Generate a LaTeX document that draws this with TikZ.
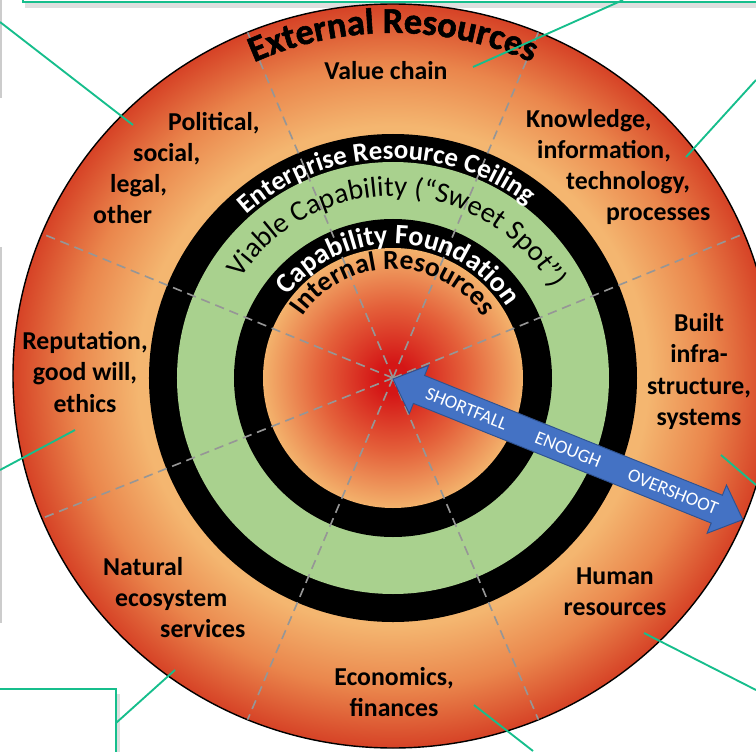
\documentclass[tikz,border=0pt]{standalone}
\usepackage{fontspec}
\setmainfont{Carlito}
\newfontfamily\heavyfont{Carlito}[BoldFeatures={FakeBold=1.6}]
\usepackage{tikz}
\usetikzlibrary{decorations.text, calc}
\usepackage{xcolor}

\definecolor{rimred}{RGB}{214,66,38}
\definecolor{ringmid}{RGB}{234,134,76}
\definecolor{ringlight}{RGB}{244,182,112}
\definecolor{diskred}{RGB}{212,22,22}
\definecolor{diskmid}{RGB}{228,96,58}
\definecolor{disklight}{RGB}{243,178,108}
\definecolor{sweetgreen}{RGB}{169,209,142}
\definecolor{gaugeblue}{RGB}{68,114,196}
\definecolor{gaugeedge}{RGB}{47,82,143}
\definecolor{calloutgreen}{RGB}{22,190,140}
\definecolor{spokegray}{RGB}{150,150,150}

\pgfdeclareradialshading{outershade}{\pgfpointorigin}{color(0bp)=(ringlight); color(16.8bp)=(ringlight); color(21bp)=(ringmid); color(25bp)=(rimred); color(50bp)=(rimred)}
\pgfdeclareradialshading{innershade}{\pgfpointorigin}{color(0bp)=(diskred); color(3bp)=(diskred); color(14bp)=(diskmid); color(25bp)=(disklight); color(50bp)=(disklight)}

\begin{document}
\begin{tikzpicture}[
  x=0.03cm, y=0.03cm,
  lbl/.style={font=\fontsize{22}{26.5}\selectfont\bfseries, text=black, inner sep=0pt},
  gauge/.style={font=\fontsize{16}{19}\selectfont, text=white, inner sep=0pt},
  feed/.style={draw=calloutgreen, line width=1.6pt},
  spoke/.style={draw=spokegray, line width=1.4pt, dash pattern=on 8pt off 5pt},
  ringtext/.style={decorate, decoration={text along path, text align=center}},
  cropbox/.style={fill=white, draw=calloutgreen, line width=1.6pt}
]
  \useasboundingbox (-393,-375) rectangle (363,376);
  \clip (-393,-375) rectangle (363,376);

  % Cropped callout boxes
  \fill[gray!25] (-368,368) rectangle (370,373);
  \filldraw[cropbox] (-370,374) rectangle (400,420);
  \fill[gray!40] (-400,376) rectangle (-390.5,278);
  \fill[gray!40] (-400,129) rectangle (-390.5,-247);
  \fill[gray!25] (-400,-318) rectangle (-273,-380);
  \filldraw[cropbox] (-400,-313) rectangle (-277,-380);

  % External resources disc
  \coordinate (mid) at (0,0);
  \coordinate (core) at (0,-2);
  \shade[shading=outershade] (mid) ellipse [x radius=380, y radius=372];
  \draw[line width=1.2pt] (mid) ellipse [x radius=380, y radius=372];

  % Ceiling, sweet spot, foundation, internal
  \fill[black] (core) circle (244);
  \fill[sweetgreen] (core) circle (216);
  \fill[black] (core) circle (159);
  \shade[shading=innershade] (core) circle (130);

  % Spokes
  \foreach \a in {22.5,67.5,...,337.5}
    \draw[spoke] (core) -- (\a:380 and 372);

  % Ring captions
  \path[ringtext, decoration={text={|\fontsize{31}{36}\selectfont\heavyfont\bfseries|External Resources}}]
    (165:343) arc[start angle=165, end angle=15, radius=343];
  \begin{scope}[shift={(core)}]
    \path[ringtext, decoration={text color=white, text={|\fontsize{23}{28}\selectfont\bfseries|Enterprise Resource Ceiling}}]
      (172:219) arc[start angle=172, end angle=12, radius=219];
    \path[ringtext, decoration={text={|\fontsize{24.5}{29}\selectfont|Viable Capability (“Sweet Spot”)}}]
      (168:182) arc[start angle=168, end angle=8, radius=182];
    \path[ringtext, decoration={text color=white, text={|\fontsize{24}{29}\selectfont\bfseries|Capability Foundation}}]
      (167:134) arc[start angle=167, end angle=7, radius=134];
    \path[ringtext, decoration={text={|\fontsize{23.5}{28}\selectfont\bfseries|Internal Resources}}]
      (170:109) arc[start angle=170, end angle=10, radius=109];
  \end{scope}

  % Gauge arrow
  \coordinate (hub) at (0,-3);
  \coordinate (rim) at (350,-144);
  \begin{scope}[shift={(hub)}, rotate=-21.9]
    \filldraw[fill=gaugeblue, draw=gaugeedge, line width=0.8pt]
      (0,0) -- (28,26) -- (28,15) -- (349,15) -- (349,26) -- (377,0)
      -- (349,-26) -- (349,-15) -- (28,-15) -- (28,-26) -- cycle;
  \end{scope}
  \path (hub) -- (rim)
    node[gauge, pos=0.21, sloped] (short) {SHORTFALL}
    node[gauge, pos=0.5, sloped] (enough) {ENOUGH}
    node[gauge, pos=0.8, sloped] (over) {OVERSHOOT};

  % Resource labels
  \node[lbl] (value) at (-7,305) {Value chain};
  \node[lbl, align=left, anchor=west] (polit) at (-300,208)
    {\hspace*{2.25cm}Political,\\\hspace*{1.2cm}social,\\\hspace*{0.51cm}legal,\\other};
  \node[lbl, align=left, anchor=west] (know) at (133,209)
    {Knowledge,\\\hspace*{0.33cm}information,\\\hspace*{1.2cm}technology,\\\hspace*{2.4cm}processes};
  \node[lbl, align=center] (reput) at (-308,4) {Reputation,\\good will,\\ethics};
  \node[lbl, align=center] (built) at (306,4.5) {Built\\infra-\\structure,\\systems};
  \node[lbl, align=left, anchor=west] (natur) at (-290,-221.5)
    {Natural\\\hspace*{0.36cm}ecosystem\\\hspace*{1.71cm}services};
  \node[lbl, align=center] (econ) at (1,-316) {Economics,\\finances};
  \node[lbl, align=center] (human) at (222,-216) {Human\\resources};

  % Callout leaders
  \coordinate (lead1) at (-393,354);  \coordinate (foot1) at (-260,251);
  \coordinate (lead2) at (230,376);   \coordinate (foot2) at (80,309);
  \coordinate (lead3) at (363,296);   \coordinate (foot3) at (293,219);
  \coordinate (lead4) at (-393,-94);  \coordinate (foot4) at (-318,-54);
  \coordinate (lead5) at (363,-109);  \coordinate (foot5) at (328,-79);
  \coordinate (lead6) at (-277,-347); \coordinate (foot6) at (-218,-294);
  \coordinate (lead7) at (140,-375);  \coordinate (foot7) at (81,-329);
  \coordinate (lead8) at (363,-314);  \coordinate (foot8) at (251,-257);
  \foreach \k in {1,...,8}
    \draw[feed] (lead\k) -- (foot\k);
\end{tikzpicture}
\end{document}
